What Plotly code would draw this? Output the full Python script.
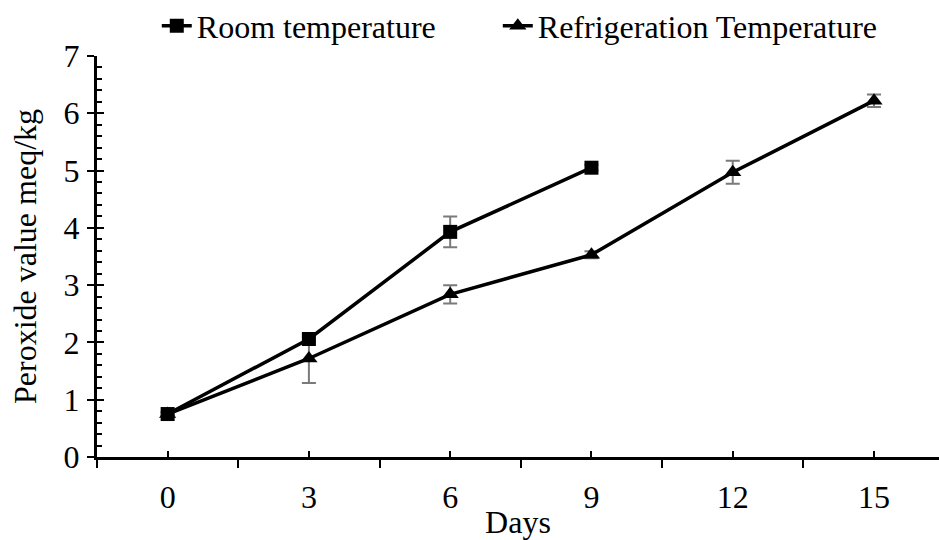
import plotly.graph_objects as go

days = ["0", "3", "6", "9", "12", "15"]
room_days = ["0", "3", "6", "9"]
room_values = [0.75, 2.06, 3.93, 5.05]
room_err = [0.03, 0.04, 0.27, 0.05]
fridge_values = [0.75, 1.72, 2.84, 3.53, 4.97, 6.22]
fridge_err = [0.03, 0.43, 0.16, 0.06, 0.20, 0.11]

FONT = "Liberation Serif, Times New Roman, serif"
FS = 32

fig = go.Figure()
fig.add_trace(go.Scatter(
    x=days, y=fridge_values, name="Refrigeration Temperature", legend="legend2",
    mode="lines+markers",
    line=dict(color="black", width=3.5),
    marker=dict(symbol="triangle-up", size=15, color="black"),
    error_y=dict(type="data", array=fridge_err, color="#7a7a7a", thickness=2, width=7),
))
fig.add_trace(go.Scatter(
    x=room_days, y=room_values, name="Room temperature", legend="legend",
    mode="lines+markers",
    line=dict(color="black", width=3.5),
    marker=dict(symbol="square", size=14, color="black"),
    error_y=dict(type="data", array=room_err, color="#7a7a7a", thickness=2, width=7),
))
# helper trace for overlay axes (crossing / inner ticks)
fig.add_trace(go.Scatter(
    x=days, y=fridge_values, xaxis="x2", yaxis="y2", mode="markers",
    marker=dict(opacity=0), showlegend=False, hoverinfo="skip",
))

legend_common = dict(orientation="h", xanchor="left", y=1.075, yanchor="middle",
                     font=dict(family=FONT, size=FS), bgcolor="rgba(0,0,0,0)")

fig.update_layout(
    width=939, height=540,
    margin=dict(l=97, r=0, t=56, b=83, autoexpand=False),
    paper_bgcolor="white", plot_bgcolor="white",
    font=dict(family=FONT, size=FS, color="black"),
    showlegend=True,
    legend=dict(x=0.071, **legend_common),
    legend2=dict(x=0.476, **legend_common),
    xaxis=dict(
        type="category", categoryorder="array", categoryarray=days,
        range=[-0.5, 5.46], tickson="boundaries", ticks="outside", ticklen=8, tickwidth=2,
        tickcolor="black", showline=True, linewidth=3, linecolor="black",
        showgrid=False, zeroline=False, ticklabelstandoff=10,
        title=dict(text="Days", standoff=0, font=dict(size=FS)),
    ),
    yaxis=dict(
        range=[0, 7], dtick=1, ticks="outside", ticklen=7, tickwidth=2, tickcolor="black",
        showline=True, linewidth=3, linecolor="black", showgrid=False, zeroline=False,
        ticklabelstandoff=1,
        title=dict(text="Peroxide value meq/kg", standoff=18, font=dict(size=FS)),
    ),
    xaxis2=dict(
        type="category", categoryorder="array", categoryarray=days, overlaying="x",
        anchor="y2", range=[-0.5, 5.46], ticks="inside", ticklen=6, tickwidth=2,
        tickcolor="black", showticklabels=False, showline=False, showgrid=False, zeroline=False,
    ),
    yaxis2=dict(
        overlaying="y", anchor="x2", side="left", range=[0, 7], dtick=1, ticks="inside",
        ticklen=7, tickwidth=2, tickcolor="black", showticklabels=False, showline=False,
        showgrid=False, zeroline=False,
        minor=dict(dtick=0.2, ticks="inside", ticklen=5, tickwidth=2, tickcolor="black", showgrid=False),
    ),
)

fig.write_html("out.html")
